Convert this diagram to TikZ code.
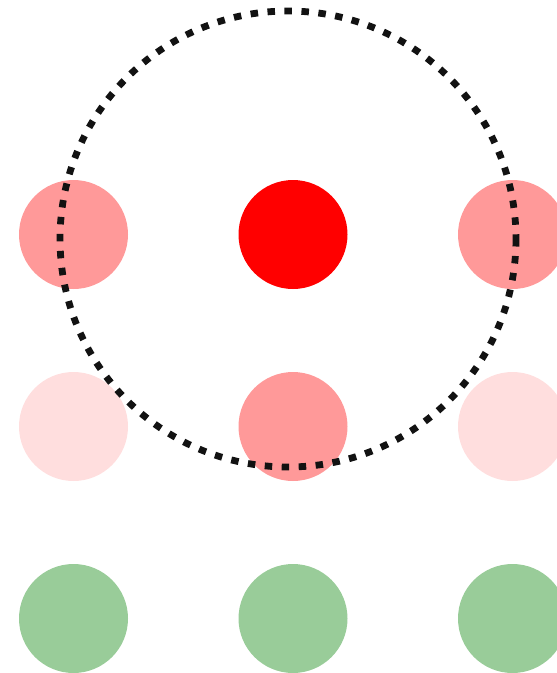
\documentclass[tikz,border=0pt]{standalone}
\begin{document}
\begin{tikzpicture}[x=1pt,y=-1pt,
  dot/.style={circle,inner sep=0pt,minimum size=109pt,draw=none},
  strong/.style={dot,fill=red},
  mid/.style={dot,fill=red!40},
  faint/.style={dot,fill=red!13},
  grn/.style={dot,fill={rgb,255:red,153;green,204;blue,153}},
  ring/.style={draw=black!93,line width=6.8pt,dash pattern=on 7.5pt off 9.5pt}]
\useasboundingbox (0,0) rectangle (557,673);
\node[mid] (a1) at (73.5,234.5) {};
\node[strong] (a2) at (293,234.5) {};
\node[mid] (a3) at (512.5,234.5) {};
\node[faint] (b1) at (73.5,426.5) {};
\node[mid] (b2) at (293,426.5) {};
\node[faint] (b3) at (512.5,426.5) {};
\node[grn] (c1) at (73.5,618.5) {};
\node[grn] (c2) at (293,618.5) {};
\node[grn] (c3) at (512.5,618.5) {};
\coordinate (rc) at (288,239);
\draw[ring] (rc) circle[radius=228];
\end{tikzpicture}
\end{document}
